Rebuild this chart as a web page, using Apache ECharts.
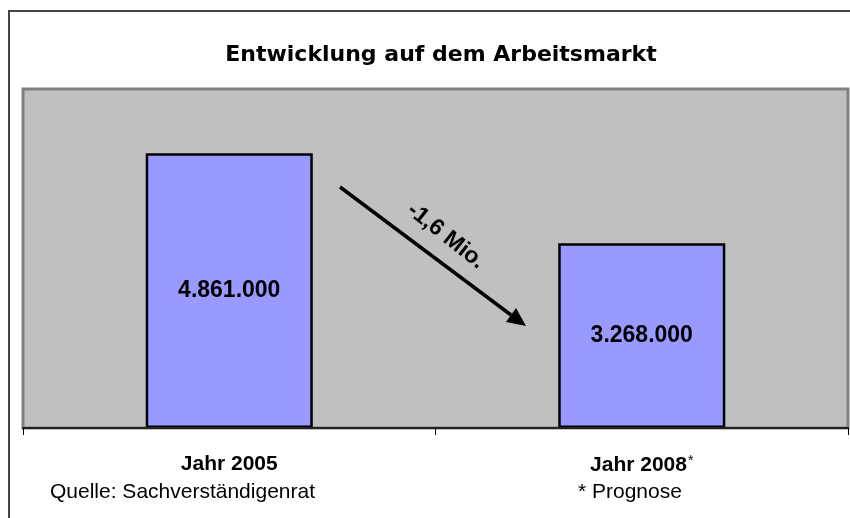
<!DOCTYPE html>
<html>
<head>
<meta charset="utf-8">
<script src="https://cdn.jsdelivr.net/npm/echarts@6/dist/echarts.min.js"></script>
<style>
  html, body { margin: 0; padding: 0; background: #fff; }
  #chart { width: 850px; height: 518px; }
</style>
</head>
<body>
<div id="chart"></div>
<script>
const categories = ['Jahr 2005', 'Jahr 2008*'];
const persons = [4861000, 3268000];
const axisMax = 6000000;
const changeLabel = '-1,6 Mio.';
const sourceNote = 'Quelle: Sachverständigenrat';
const forecastNote = '* Prognose';

const font = '"Liberation Sans", Arial, sans-serif';
const wideFont = '"DejaVu Sans", "Liberation Sans", sans-serif';

function fmt(v) {
  return String(v).replace(/\B(?=(\d{3})+(?!\d))/g, '.');
}

const chart = echarts.init(document.getElementById('chart'));

const option = {
  backgroundColor: '#fff',
  animation: false,
  textStyle: { fontFamily: font },
  title: {
    text: 'Entwicklung auf dem Arbeitsmarkt',
    left: 436,
    top: 39,
    textAlign: 'center',
    textStyle: { fontSize: 22, fontWeight: 'bold', color: '#000', fontFamily: wideFont }
  },
  grid: {
    left: 23,
    top: 89,
    right: 2,
    bottom: 90,
    show: true,
    backgroundColor: '#C0C0C0',
    borderColor: '#808080',
    borderWidth: 3
  },
  xAxis: {
    type: 'category',
    data: categories,
    z: 10,
    axisLine: { lineStyle: { color: '#222', width: 2 } },
    axisTick: { show: true, inside: false, length: 7, lineStyle: { color: '#000', width: 1 } },
    axisLabel: {
      margin: 26,
      formatter: function (v) {
        if (v.endsWith('*')) return '{a|' + v.slice(0, -1) + '}{s|*}';
        return '{a|' + v + '}';
      },
      rich: {
        a: { fontSize: 21, fontWeight: 'bold', color: '#000', fontFamily: font },
        s: { fontSize: 14, color: '#000', fontFamily: font, padding: [0, 0, 8, 1] }
      }
    }
  },
  yAxis: {
    type: 'value',
    min: 0,
    max: axisMax,
    show: false,
    splitLine: { show: false }
  },
  series: [{
    type: 'bar',
    data: persons,
    barWidth: '40.5%',
    itemStyle: { color: '#9999FF', borderColor: '#000', borderWidth: 2.5 },
    label: {
      show: true,
      position: 'inside',
      formatter: function (p) { return fmt(p.value); },
      fontSize: 23,
      fontWeight: 'bold',
      color: '#000',
      fontFamily: font
    }
  }],
  graphic: [
    {
      type: 'rect',
      shape: { x: 9, y: 11, width: 900, height: 600 },
      style: { fill: 'none', stroke: '#444', lineWidth: 2 },
      silent: true
    },
    {
      type: 'polyline',
      shape: { points: [[340, 187], [511, 315]] },
      style: { stroke: '#000', lineWidth: 3.5 },
      z: 100
    },
    {
      type: 'polygon',
      shape: { points: [[526, 326], [506, 322], [516, 308]] },
      style: { fill: '#000' },
      z: 100
    },
    {
      type: 'text',
      x: 446,
      y: 236,
      rotation: -0.67,
      style: {
        text: changeLabel,
        x: 0, y: 0,
        align: 'center',
        verticalAlign: 'middle',
        font: 'bold 23px ' + font,
        fill: '#000'
      },
      z: 100
    },
    {
      type: 'text',
      left: 50,
      top: 482,
      style: { text: sourceNote, font: '21px ' + font, fill: '#000' }
    },
    {
      type: 'text',
      left: 578,
      top: 482,
      style: { text: forecastNote, font: '21px ' + font, fill: '#000' }
    }
  ]
};

chart.setOption(option);
</script>
</body>
</html>
